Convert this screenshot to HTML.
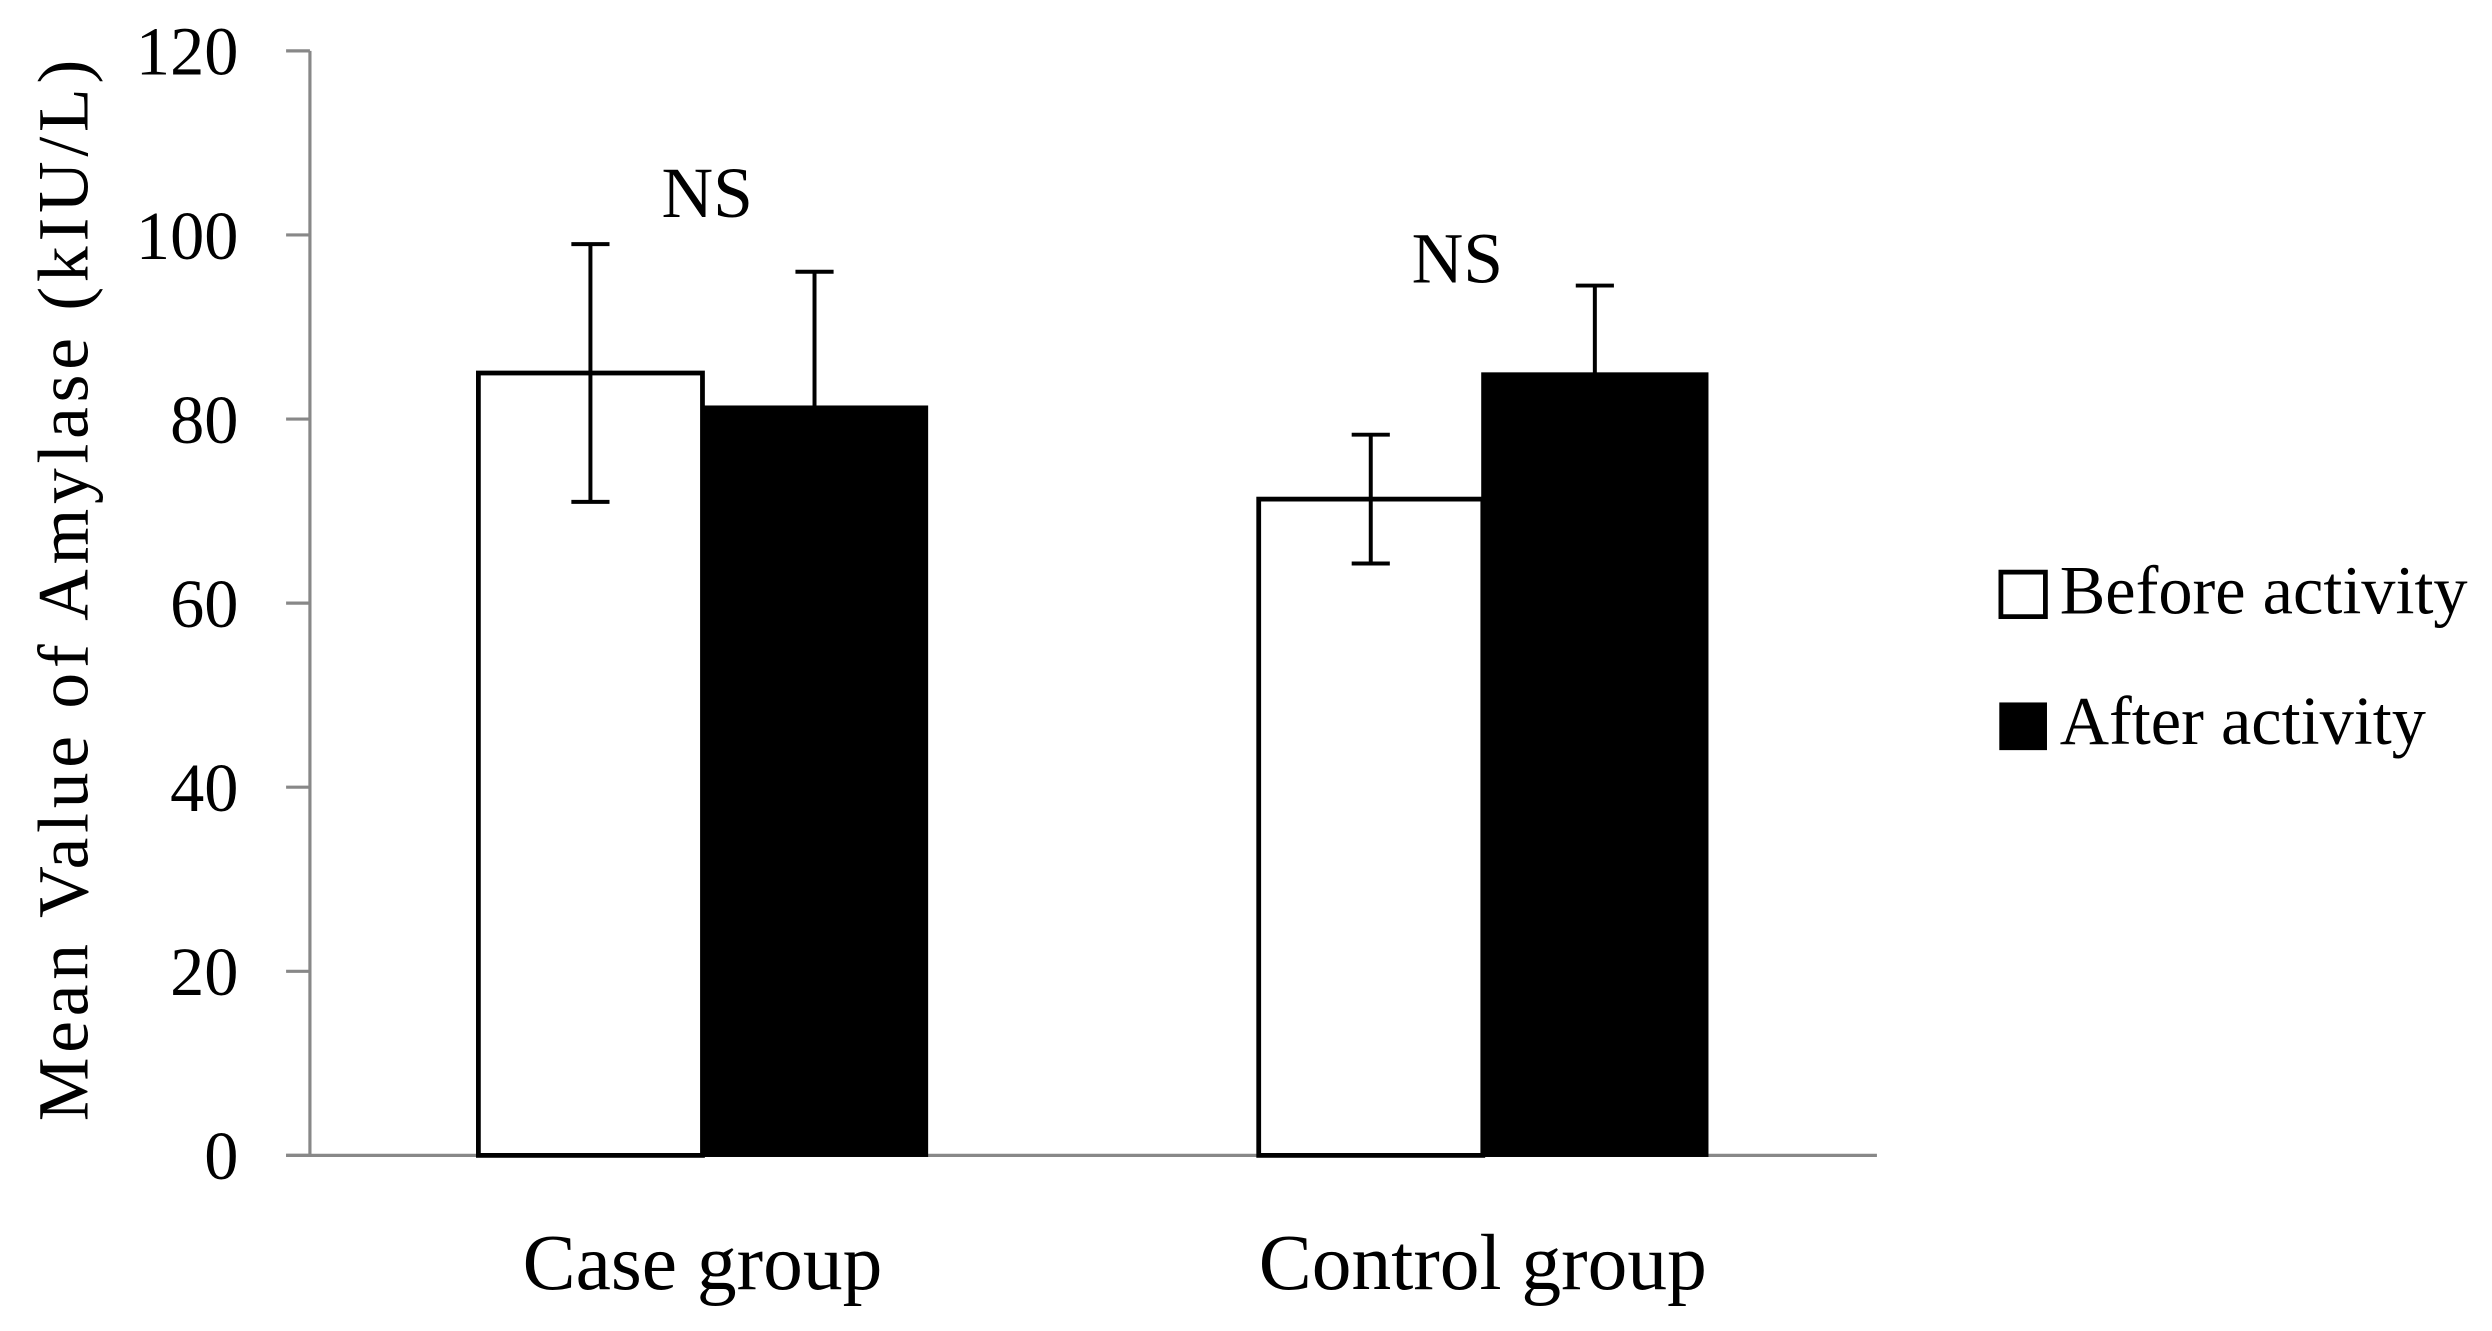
<!DOCTYPE html>
<html><head><meta charset="utf-8"><style>
html,body{margin:0;padding:0;background:#fff;}
svg{display:block;}
text{font-family:"Liberation Serif",serif;fill:#000;}
</style></head><body>
<svg id="chart" width="2492" height="1331" viewBox="0 0 1568 837.5" xmlns="http://www.w3.org/2000/svg">
<g id="axes"></g><g id="bars"></g>
<text transform="translate(55,370) rotate(-90)" text-anchor="middle" font-size="45" letter-spacing="3">Mean Value of Amylase (kIU/L)</text>
<g>
<rect x="1259" y="360" width="28" height="28" fill="#fff" stroke="#000" stroke-width="3"/>
<text x="1296" y="386" font-size="43">Before activity</text>
<rect x="1258" y="442" width="30" height="30" fill="#000"/>
<text x="1296" y="468" font-size="43">After activity</text>
</g>
</svg>
<script>
const categories=["Case group","Control group"];
const beforeVals=[85,71.3];
const afterVals=[81.3,84.9];
const beforeErr=[14,7];
const afterErr=[14.7,9.6];
const sigLabels=["NS","NS"];
const yTicks=[0,20,40,60,80,100,120];
const NS="http://www.w3.org/2000/svg";
const y0=727,yTop=32,yMax=120;
const y=v=>y0-(v/yMax)*(y0-yTop);
const groupCenter=[442,933],barW=141;
const axes=document.getElementById('axes'),bars=document.getElementById('bars');
function mk(tag,attrs,parent){const e=document.createElementNS(NS,tag);for(const k in attrs)e.setAttribute(k,attrs[k]);parent.appendChild(e);return e;}
let l=mk('line',{x1:195,y1:yTop,x2:195,y2:y0,stroke:'#888','stroke-width':2},axes);


l=mk('line',{x1:180,y1:y0,x2:1181,y2:y0,stroke:'#888','stroke-width':2},axes);


yTicks.forEach(t=>{
 const tk=mk('line',{x1:180,y1:y(t),x2:195,y2:y(t),stroke:'#888','stroke-width':2},axes);
 
 
 const tx=mk('text',{x:150,y:y(t)+15,'text-anchor':'end','font-size':43},axes);
 tx.textContent=t;
 
 
});
function err(cx,v,e,lower){
 const top=y(v+e),bot=lower?y(v-e):y(v);
 const g=mk('g',{stroke:'#000','stroke-width':2.5},bars);
 
 
 mk('line',{x1:cx,y1:top,x2:cx,y2:bot},g);
 mk('line',{x1:cx-12,y1:top,x2:cx+12,y2:top},g);
 if(lower)mk('line',{x1:cx-12,y1:bot,x2:cx+12,y2:bot},g);
}
categories.forEach((c,i)=>{
 const gc=groupCenter[i];
 const b=mk('rect',{x:gc-barW,y:y(beforeVals[i]),width:barW,height:y0-y(beforeVals[i]),fill:'#fff',stroke:'#000','stroke-width':3},bars);
 
 
 const a=mk('rect',{x:gc,y:y(afterVals[i]),width:barW,height:y0-y(afterVals[i]),fill:'#000',stroke:'#000','stroke-width':2},bars);
 
 
 err(gc-barW/2,beforeVals[i],beforeErr[i],true);
 err(gc+barW/2,afterVals[i],afterErr[i],false);
 const s=mk('text',{x:gc+3-i*19,y:y(Math.max(beforeVals[i]+beforeErr[i],afterVals[i]+afterErr[i]))-17+i*15,'text-anchor':'middle','font-size':45},bars);
 s.textContent=sigLabels[i];
 
 
 const xl=mk('text',{x:gc,y:811,'text-anchor':'middle','font-size':50},bars);
 xl.textContent=c;
 
 
});
</script>
</body></html>
